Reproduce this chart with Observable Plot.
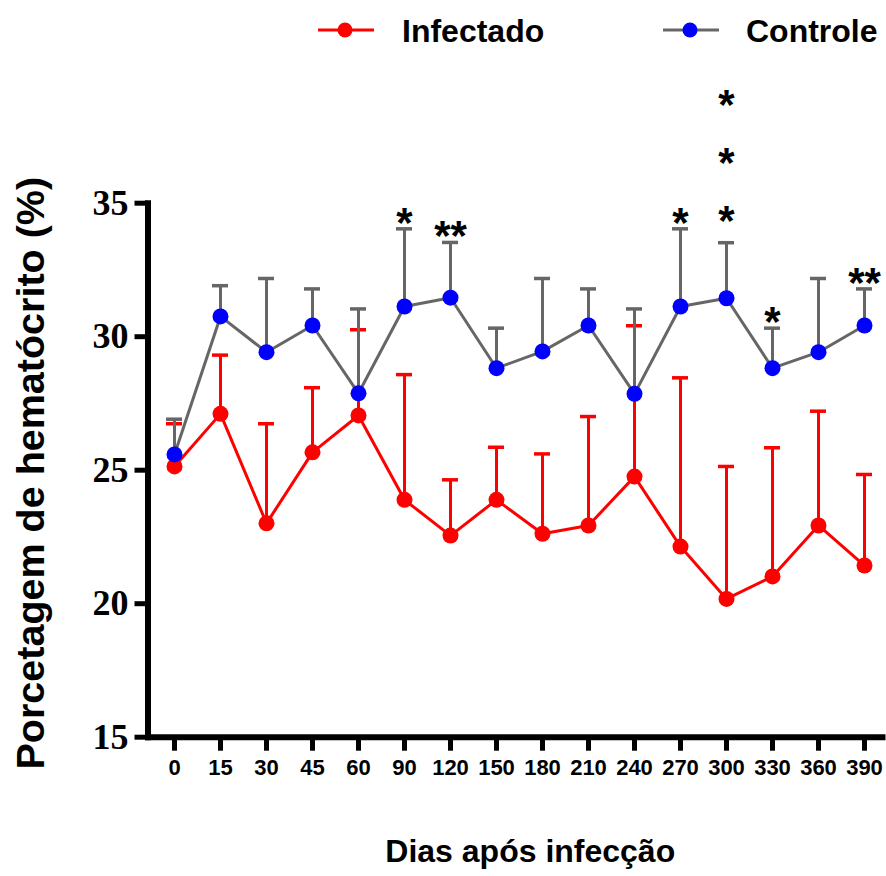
<!DOCTYPE html>
<html>
<head>
<meta charset="utf-8">
<script src="https://cdn.jsdelivr.net/npm/d3@7"></script>
<script src="https://cdn.jsdelivr.net/npm/@observablehq/plot@0.6"></script>
<style>
  html, body { margin: 0; padding: 0; background: #fff; }
  #wrap { position: relative; width: 886px; height: 876px; overflow: hidden; font-family: "Liberation Sans", Arial, sans-serif; }
  #legend { position: relative; width: 886px; height: 60px; }
  .lg-sw { position: absolute; top: 20px; }
  .lg-tx { position: absolute; font-size: 32px; font-weight: bold; line-height: 32px; color: #000; white-space: nowrap; }
  #chart svg { display: block; }
</style>
</head>
<body>
<div id="wrap">
  <div id="legend"></div>
  <div id="chart"></div>
</div>
<script>
// ---- data ----
const days = ["0","15","30","45","60","90","120","150","180","210","240","270","300","330","360","390"];
const infectadoMean = [25.14, 27.11, 23.01, 25.67, 27.05, 23.89, 22.55, 23.89, 22.62, 22.93, 24.76, 22.14, 20.18, 21.02, 22.93, 21.43];
const infectadoSD   = [1.60, 2.20, 3.73, 2.42, 3.21, 4.69, 2.09, 1.97, 2.99, 4.08, 5.65, 6.32, 4.96, 4.82, 4.28, 3.41];
const controleMean  = [25.59, 30.76, 29.42, 30.42, 27.88, 31.13, 31.46, 28.82, 29.45, 30.42, 27.86, 31.13, 31.44, 28.82, 29.42, 30.42];
const controleSD    = [1.32, 1.15, 2.76, 1.37, 3.16, 2.91, 2.07, 1.50, 2.73, 1.37, 3.18, 2.91, 2.08, 1.50, 2.76, 1.37];
const stars = ["", "", "", "", "", "*", "**", "", "", "", "", "*", "*\n*\n*", "*", "", "**"];
const yTicks = [15, 20, 25, 30, 35];
const seriesNames = ["Infectado", "Controle"];
const xTitle = "Dias após infecção";
const yTitle = "Porcetagem de hematócrito (%)";

const RED = "#ff0000", BLUE = "#0000ff", GRAY = "#666666";
const SANS = "'Liberation Sans', Arial, sans-serif";
const SERIF = "'Liberation Serif', 'Times New Roman', serif";

const rows = days.map((d, i) => ({
  day: d,
  inf: infectadoMean[i], infHi: infectadoMean[i] + infectadoSD[i],
  ctl: controleMean[i], ctlHi: controleMean[i] + controleSD[i],
  star: stars[i]
}));
const singleStars = rows.filter(d => d.star && !d.star.includes("\n"));
const multiStars = rows.filter(d => d.star && d.star.includes("\n"));

// ---- legend (HTML, above the chart) ----
const legend = document.getElementById("legend");
const legendItems = [
  {name: seriesNames[0], line: RED, dot: RED, sx: 318, tx: 402},
  {name: seriesNames[1], line: GRAY, dot: BLUE, sx: 663, tx: 746}
];
for (const it of legendItems) {
  const sw = document.createElementNS("http://www.w3.org/2000/svg", "svg");
  sw.setAttribute("width", 56); sw.setAttribute("height", 20);
  sw.setAttribute("class", "lg-sw");
  sw.style.left = it.sx + "px";
  sw.innerHTML = `<line x1="0" y1="10" x2="56" y2="10" stroke="${it.line}" stroke-width="3"/><circle cx="27" cy="10" r="7.5" fill="${it.dot}"/>`;
  legend.appendChild(sw);
  const tx = document.createElement("span");
  tx.className = "lg-tx";
  tx.style.left = it.tx + "px";
  tx.style.top = "14.5px";
  tx.textContent = it.name;
  legend.appendChild(tx);
}

// ---- chart ----
const chart = Plot.plot({
  width: 886,
  height: 816,
  marginLeft: 147.5,
  marginRight: 4,
  marginTop: 142.7,
  marginBottom: 139.3,
  style: {background: "white", color: "black", overflow: "visible"},
  x: {type: "band", domain: days, range: [163.85, 873.75], paddingInner: 0.6608, paddingOuter: 0, align: 0.5},
  y: {domain: [15, 35]},
  marks: [
    Plot.frame({anchor: "left", strokeWidth: 6}),
    Plot.frame({anchor: "bottom", strokeWidth: 6}),
    Plot.axisY({ticks: yTicks, tickSize: 13, tickPadding: 6.5, strokeWidth: 5, fontSize: 36, fontFamily: SERIF, fontWeight: "bold", label: null, tickFormat: d => String(d)}),
    Plot.axisX({tickSize: 14, tickPadding: 8, strokeWidth: 5, fontSize: 22, fontFamily: SANS, fontWeight: "bold", label: null}),
    // Infectado
    Plot.ruleX(rows, {x: "day", y1: "inf", y2: "infHi", stroke: RED, strokeWidth: 3}),
    Plot.tickY(rows, {x: "day", y: "infHi", stroke: RED, strokeWidth: 3.5}),
    Plot.line(rows, {x: "day", y: "inf", stroke: RED, strokeWidth: 3}),
    Plot.dot(rows, {x: "day", y: "inf", r: 8, fill: RED}),
    // Controle
    Plot.ruleX(rows, {x: "day", y1: "ctl", y2: "ctlHi", stroke: GRAY, strokeWidth: 3}),
    Plot.tickY(rows, {x: "day", y: "ctlHi", stroke: GRAY, strokeWidth: 3.5}),
    Plot.line(rows, {x: "day", y: "ctl", stroke: GRAY, strokeWidth: 3}),
    Plot.dot(rows, {x: "day", y: "ctl", r: 8, fill: BLUE}),
    // significance asterisks
    Plot.text(singleStars, {x: "day", y: "ctlHi", text: "star", lineAnchor: "bottom", dy: 8, fontSize: 42, fontWeight: "bold", fontFamily: SANS, fill: "black"}),
    Plot.text(multiStars, {x: "day", y: "ctlHi", text: "star", lineAnchor: "bottom", dy: -8, lineHeight: 1.381, fontSize: 42, fontWeight: "bold", fontFamily: SANS, fill: "black"}),
    // axis titles
    Plot.text([yTitle], {frameAnchor: "left", rotate: -90, dx: -117, dy: 3, lineAnchor: "middle", textAnchor: "middle", fontSize: 39.5, fontWeight: "bold", fontFamily: SANS, fill: "black"}),
    Plot.text([xTitle], {frameAnchor: "bottom", lineAnchor: "bottom", dx: 15, dy: 125, textAnchor: "middle", fontSize: 32, fontWeight: "bold", fontFamily: SANS, fill: "black"})
  ]
});
document.getElementById("chart").appendChild(chart);
</script>
</body>
</html>
